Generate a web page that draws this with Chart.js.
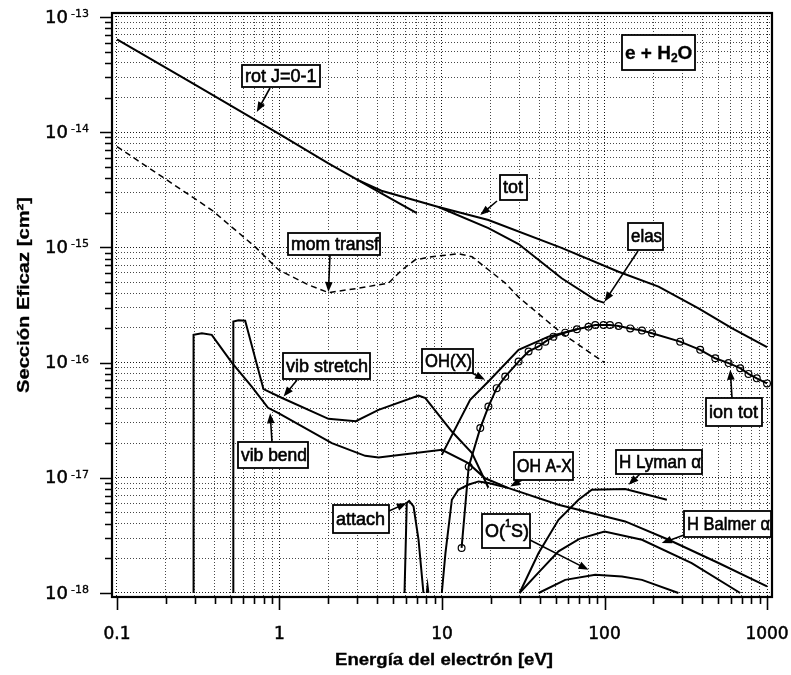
<!DOCTYPE html>
<html>
<head>
<meta charset="utf-8">
<script src="https://cdn.jsdelivr.net/npm/chart.js@4/dist/chart.umd.min.js"></script>
<style>
  html, body { margin: 0; padding: 0; background: #fff; }
  #wrap { width: 791px; height: 675px; }
</style>
</head>
<body>
<div id="wrap"><canvas id="c" width="791" height="675"></canvas></div>
<script>
// Electron + H2O cross sections (cm^2) versus electron energy (eV)

const rotE = [0.1, 0.3, 1, 2, 4.24, 7];
const rotSigma = [6.4e-14, 2.6e-14, 9.6e-15, 5.36e-15, 2.95e-15, 1.98e-15];

const totE = [3, 4.24, 9.52, 19.3, 54.4, 122, 215, 379, 607, 1000];
const totSigma = [3.87e-15, 3.1e-15, 2.24e-15, 1.73e-15, 9.9e-16, 6.15e-16, 4.56e-16, 2.96e-16, 1.99e-16, 1.36e-16];

const elasE = [9.52, 19.3, 29.6, 54.5, 87.7, 100];
const elasSigma = [2.24e-15, 1.47e-15, 1.07e-15, 5.4e-16, 3.5e-16, 3.3e-16];

const momE = [0.1, 0.383, 0.709, 0.986, 1.51, 2.0, 3.06, 4.69, 5.66, 6.84, 8.66, 12.6, 15.3, 19.3, 24.5, 29.6, 54.5, 100];
const momSigma = [7.5e-15, 2.11e-15, 1.01e-15, 6.4e-16, 4.72e-16, 4.05e-16, 4.42e-16, 4.9e-16, 6.37e-16, 7.8e-16, 8.3e-16, 8.8e-16, 8.3e-16, 6.4e-16, 4.9e-16, 3.7e-16, 1.8e-16, 1.0e-16];

const stretchE = [0.52, 0.52, 0.56, 0.615, 0.797, 1.03, 2.0, 2.95, 4.07, 7.17, 7.9, 11.5, 15.3, 19.3];
const stretchSigma = [1e-18, 2.27e-16, 2.33e-16, 2.31e-16, 5.88e-17, 4.95e-17, 3.25e-17, 3.1e-17, 3.89e-17, 5.17e-17, 4.91e-17, 2.52e-17, 1.64e-17, 8.2e-18];

const bendE = [0.296, 0.296, 0.333, 0.383, 0.509, 0.675, 0.85, 0.986, 2.1, 3.37, 4.07, 10, 14.5, 18.4, 25.7];
const bendSigma = [1e-18, 1.74e-16, 1.8e-16, 1.74e-16, 1e-16, 6.19e-17, 4.05e-17, 3.64e-17, 2.0e-17, 1.55e-17, 1.5e-17, 1.75e-17, 1.34e-17, 9.9e-18, 8.14e-18];

const attachE = [5.88, 6.07, 6.28, 6.68, 7.17, 7.69, 7.9, 8.06, 8.15, 8.25];
const attachSigma = [1e-18, 6.04e-18, 6.3e-18, 5.64e-18, 2.9e-18, 1e-18, null, 1e-18, 1.15e-18, 1e-18];

const ohxE = [9.97, 14.9, 19.3, 29.6, 45.2, 67.6];
const ohxSigma = [1.58e-17, 4.75e-17, 6.85e-17, 1.29e-16, 1.68e-16, 1.95e-16];

const ionE = [13.2, 14.6, 17.2, 19.3, 21.7, 24.5, 29.6, 34.1, 39.3, 43.2, 48.5, 57.3, 67.6, 79.7, 87.7, 98.6, 108, 122, 144, 170, 196, 292, 388, 480, 580, 684, 769, 865, 1000];
const ionSigma = [2.46e-18, 1.25e-17, 2.7e-17, 4.15e-17, 6.0e-17, 7.56e-17, 1.02e-16, 1.25e-16, 1.38e-16, 1.52e-16, 1.68e-16, 1.82e-16, 1.95e-16, 2.05e-16, 2.12e-16, 2.12e-16, 2.12e-16, 2.08e-16, 1.98e-16, 1.9e-16, 1.8e-16, 1.52e-16, 1.29e-16, 1.09e-16, 9.9e-17, 8.94e-17, 7.98e-17, 7.3e-17, 6.6e-17];

const ohaxE = [9.97, 10.5, 11.5, 12.6, 14.5, 16.8, 19.3, 25.7, 52.1, 134, 248, 503, 1000];
const ohaxSigma = [1e-18, 2.22e-18, 6.45e-18, 7.87e-18, 8.7e-18, 9.3e-18, 9.0e-18, 8.14e-18, 5.83e-18, 4.18e-18, 2.9e-18, 1.82e-18, 1.14e-18];

const lymanE = [30, 39.3, 52.1, 69.2, 83.5, 134, 242];
const lymanSigma = [1e-18, 2.22e-18, 4.32e-18, 6.45e-18, 7.87e-18, 7.98e-18, 6.45e-18];

const balmerE = [30, 40, 52.1, 70, 100, 170, 344, 684];
const balmerSigma = [1e-18, 1.55e-18, 2.3e-18, 2.95e-18, 3.42e-18, 2.9e-18, 1.82e-18, 1e-18];

const o1sE = [39.3, 57.3, 87.7, 128, 170, 285];
const o1sSigma = [1e-18, 1.3e-18, 1.44e-18, 1.39e-18, 1.3e-18, 1e-18];

const xTickLabels = ['0.1', '1', '10', '100', '1000'];
const xTickValues = [0.1, 1, 10, 100, 1000];
const yTickExponents = [-13, -14, -15, -16, -17, -18];

// axis limits (a little beyond the labelled decades)
const X_MIN = 0.0932, X_MAX = 1073;
const Y_MIN = 9.23e-19, Y_MAX = 1.083e-13;

const pts = (xs, ys) => xs.map((v, i) => ({ x: v, y: ys[i] }));

function series(label, xs, ys, extra) {
  return Object.assign({
    label, data: pts(xs, ys), borderColor: '#000', borderWidth: 2,
    pointRadius: 0, fill: false, tension: 0, spanGaps: false
  }, extra || {});
}

const datasets = [
  series('rot J=0-1', rotE, rotSigma),
  series('tot', totE, totSigma),
  series('elas', elasE, elasSigma),
  series('mom transf', momE, momSigma, { borderDash: [6, 4], borderWidth: 1.5 }),
  series('vib stretch', stretchE, stretchSigma),
  series('vib bend', bendE, bendSigma),
  series('attach', attachE, attachSigma),
  series('OH(X)', ohxE, ohxSigma),
  series('ion tot', ionE, ionSigma, {
    pointRadius: 3.4, pointStyle: 'circle', pointBorderColor: '#000',
    pointBorderWidth: 1.2, pointBackgroundColor: 'rgba(255,255,255,0)'
  }),
  series('OH A-X', ohaxE, ohaxSigma),
  series('H Lyman α', lymanE, lymanSigma),
  series('H Balmer α', balmerE, balmerSigma),
  series('O(1S)', o1sE, o1sSigma)
];

// boxed labels: box = [left, top, width, height]; arrow from a point on the box to a spot on a curve
const notes = [
  { runs: [{ t: 'rot J=0-1' }], box: [242, 65, 78, 22], from: [270, 88], tip: [0.725, 1.5e-14] },
  { runs: [{ t: 'mom transf' }], box: [288, 233, 92, 22], from: [330, 255], tip: [2.0, 4.1e-16] },
  { runs: [{ t: 'tot' }], box: [500, 175, 27, 25], from: [497, 201], tip: [17.2, 1.91e-15] },
  { runs: [{ t: 'elas' }], box: [628, 223, 35, 27], from: [638, 251], tip: [100, 3.38e-16] },
  { runs: [{ t: 'e + H', bold: true }, { t: '2', bold: true, sub: true }, { t: 'O', bold: true }], box: [622, 35, 73, 35], size: 19 },
  { runs: [{ t: 'vib stretch' }], box: [283, 353, 87, 26], from: [297, 380], tip: [1.06, 5.07e-17] },
  { runs: [{ t: 'vib bend' }], box: [238, 442, 70, 26], from: [272, 442], tip: [0.876, 3.64e-17] },
  { runs: [{ t: 'attach' }], box: [333, 505, 56, 28], from: [389, 511], tip: [6.07, 6.04e-18] },
  { runs: [{ t: 'OH(X)' }], box: [422, 349, 51, 24], from: [472, 373], tip: [18.4, 7.08e-17] },
  { runs: [{ t: 'ion tot' }], box: [706, 398, 56, 28], from: [732, 398], tip: [594, 8.65e-17] },
  { runs: [{ t: 'OH A-X' }], box: [514, 452, 59, 28], from: [522, 480], tip: [26.3, 8.4e-18] },
  { runs: [{ t: 'H Lyman α' }], box: [616, 450, 86, 24], from: [640, 474], tip: [140.6, 8.7e-18] },
  { runs: [{ t: 'H Balmer α' }], box: [684, 511, 87, 26], from: [684, 535], tip: [225, 2.71e-18] },
  { runs: [{ t: 'O(' }, { t: '1', sup: true }, { t: 'S)' }], box: [482, 514, 48, 34], from: [530, 540], tip: [79.7, 1.59e-18] }
];

const LABEL_FONT = '"Liberation Sans", Arial, sans-serif';
const NUM_FONT = '"DejaVu Sans", sans-serif';

function logTicks(min, max) {
  const out = [];
  for (let k = Math.floor(Math.log10(min)); k <= Math.ceil(Math.log10(max)); k++) {
    for (let m = 1; m <= 9; m++) {
      const v = parseFloat(m + 'e' + k);
      if (v >= min && v <= max) out.push({ value: v, major: m === 1 });
    }
  }
  return out;
}

function arrow(ctx, x0, y0, x1, y1) {
  const a = Math.atan2(y1 - y0, x1 - x0), L = 10, W = 3.8;
  const c = Math.cos(a), s = Math.sin(a);
  ctx.beginPath();
  ctx.moveTo(x0, y0);
  ctx.lineTo(x1 - L * 0.7 * c, y1 - L * 0.7 * s);
  ctx.lineWidth = 1.6;
  ctx.stroke();
  ctx.beginPath();
  ctx.moveTo(x1, y1);
  ctx.lineTo(x1 - L * c + W * s, y1 - L * s - W * c);
  ctx.lineTo(x1 - L * c - W * s, y1 - L * s + W * c);
  ctx.closePath();
  ctx.fill();
}

// text filled and lightly stroked so it reads as heavy as the rest of the plot
function heavyText(ctx, str, x, y, weight) {
  ctx.fillText(str, x, y);
  ctx.lineWidth = weight;
  ctx.strokeText(str, x, y);
}

function runsWidth(ctx, runs, size) {
  let w = 0;
  for (const r of runs) {
    const fs = (r.sub || r.sup) ? Math.round(size * 0.62) : size;
    ctx.font = (r.bold ? 'bold ' : '') + fs + 'px ' + LABEL_FONT;
    w += ctx.measureText(r.t).width;
  }
  return w;
}

function drawRuns(ctx, runs, x, yMid, size, maxW) {
  const total = runsWidth(ctx, runs, size);
  const sx = total > maxW ? maxW / total : 1;
  ctx.save();
  ctx.translate(x, yMid);
  ctx.scale(sx, 1);
  let cx = 0;
  for (const r of runs) {
    const fs = (r.sub || r.sup) ? Math.round(size * 0.62) : size;
    ctx.font = (r.bold ? 'bold ' : '') + fs + 'px ' + LABEL_FONT;
    let dy = 0;
    if (r.sub) dy = size * 0.28;
    if (r.sup) dy = -size * 0.42;
    heavyText(ctx, r.t, cx, dy, r.bold ? 0.3 : 0.6);
    cx += ctx.measureText(r.t).width;
  }
  ctx.restore();
}

function fittedText(ctx, text, font, cx, cy, targetW, rot) {
  ctx.save();
  ctx.font = font;
  const w = ctx.measureText(text).width;
  ctx.translate(cx, cy);
  if (rot) ctx.rotate(rot);
  ctx.scale(targetW / w, 1);
  ctx.textAlign = 'center';
  ctx.textBaseline = 'middle';
  heavyText(ctx, text, 0, 0, 0.3);
  ctx.restore();
}

const decor = {
  id: 'decor',
  afterDraw(chart) {
    const { ctx, chartArea: a, scales: { x, y } } = chart;
    ctx.save();
    ctx.fillStyle = '#000';
    ctx.strokeStyle = '#000';

    // frame
    ctx.lineWidth = 2.2;
    ctx.strokeRect(a.left, a.top, a.right - a.left, a.bottom - a.top);

    // tick marks
    ctx.lineWidth = 1.6;
    ctx.beginPath();
    for (const t of x.ticks) {
      const px = Math.round(x.getPixelForValue(t.value)) + 0.5;
      ctx.moveTo(px, a.bottom);
      ctx.lineTo(px, a.bottom + (t.major ? 13 : 7));
    }
    for (const t of y.ticks) {
      const py = Math.round(y.getPixelForValue(t.value)) + 0.5;
      ctx.moveTo(a.left, py);
      ctx.lineTo(a.left - (t.major ? 12 : 7), py);
    }
    ctx.stroke();

    // x tick labels
    ctx.font = '17px ' + NUM_FONT;
    ctx.textAlign = 'center';
    ctx.textBaseline = 'middle';
    xTickValues.forEach((v, i) => {
      heavyText(ctx, xTickLabels[i], x.getPixelForValue(v), 635, 0.5);
    });

    // y tick labels: 10 with superscript exponent
    yTickExponents.forEach(e => {
      const py = y.getPixelForValue(parseFloat('1e' + e));
      ctx.font = '18px ' + NUM_FONT;
      ctx.textAlign = 'right';
      ctx.textBaseline = 'middle';
      heavyText(ctx, '10', 68, py + 1, 0.5);
      ctx.font = '11px ' + NUM_FONT;
      ctx.textAlign = 'left';
      ctx.textBaseline = 'alphabetic';
      heavyText(ctx, '-' + Math.abs(e), 71, py, 0.3);
    });

    // axis titles
    fittedText(ctx, 'Energía del electrón [eV]', 'bold 16px ' + LABEL_FONT, 444, 661, 218, 0);
    fittedText(ctx, 'Sección Eficaz [cm²]', 'bold 16px ' + LABEL_FONT, 25, 295, 196, -Math.PI / 2);

    // boxed labels with arrows
    for (const n of notes) {
      if (n.from) {
        const tx = x.getPixelForValue(n.tip[0]);
        const ty = y.getPixelForValue(n.tip[1]);
        arrow(ctx, n.from[0], n.from[1], tx, ty);
      }
    }
    for (const n of notes) {
      const [l, t, w, h] = n.box;
      ctx.fillStyle = '#fff';
      ctx.fillRect(l, t, w, h);
      ctx.fillStyle = '#000';
      ctx.strokeStyle = '#000';
      ctx.textAlign = 'left';
      ctx.textBaseline = 'middle';
      drawRuns(ctx, n.runs, l + 3, t + h / 2 + 1, n.size || 18, w - 4);
      ctx.lineWidth = 1.8;
      ctx.strokeRect(l, t, w, h);
    }
    ctx.restore();
  }
};

const gridColor = c => (c.tick && c.tick.major) ? 'rgba(0,0,0,0.9)' : 'rgba(0,0,0,0.72)';

new Chart(document.getElementById('c'), {
  type: 'line',
  data: { datasets },
  options: {
    responsive: false,
    animation: false,
    devicePixelRatio: 1,
    layout: { padding: { top: 13, right: 19, left: 0, bottom: 0 } },
    plugins: { legend: { display: false }, tooltip: { enabled: false } },
    scales: {
      x: {
        type: 'logarithmic', bounds: 'data', min: X_MIN, max: X_MAX,
        afterBuildTicks: s => { s.ticks = logTicks(X_MIN, X_MAX); },
        afterFit: s => { s.height = 78; },
        ticks: { display: false },
        grid: { color: gridColor, lineWidth: 1, drawTicks: false },
        border: { display: false, dash: [1, 2] }
      },
      y: {
        type: 'logarithmic', bounds: 'data', min: Y_MIN, max: Y_MAX,
        afterBuildTicks: s => { s.ticks = logTicks(Y_MIN, Y_MAX); },
        afterFit: s => { s.width = 112; },
        ticks: { display: false },
        grid: { color: gridColor, lineWidth: 1, drawTicks: false },
        border: { display: false, dash: [1, 2] }
      }
    }
  },
  plugins: [decor]
});
</script>
</body>
</html>
